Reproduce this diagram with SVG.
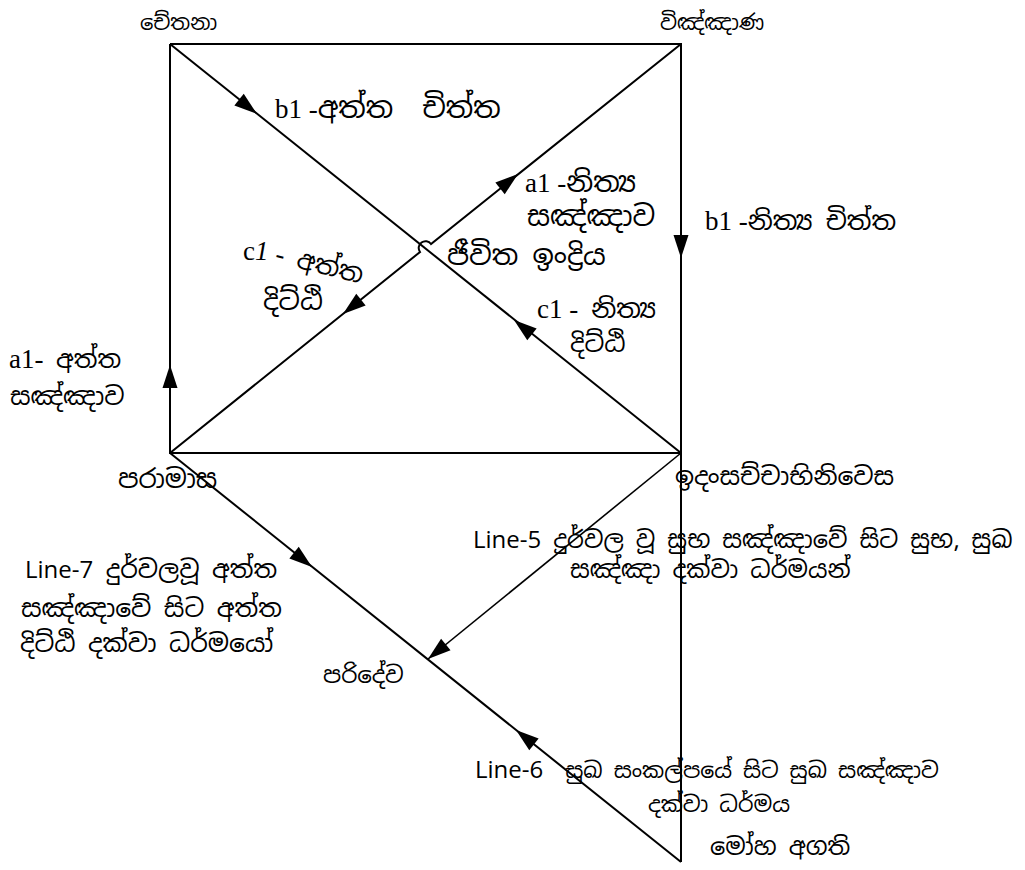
<svg xmlns="http://www.w3.org/2000/svg" xmlns:xlink="http://www.w3.org/1999/xlink" width="1025" height="870" viewBox="0 0 1025 870">
<style>
.ln{fill:none;stroke:#000;stroke-width:2}
.ln2{fill:none;stroke:#000;stroke-width:1.6}
.si{font-family:"Noto Sans Sinhala","Noto Serif Sinhala","Iskoola Pota","Liberation Serif",serif;fill:#000}
.lt{font-family:"Liberation Serif","Times New Roman",serif;font-size:27px}
.ss{font-family:"Open Sans","Liberation Sans",sans-serif;font-size:24px}
</style>
<defs>
<path id="ah" d="M0,0 L-23,-7.5 L-23,7.5 Z" fill="#000"/>
</defs>
<rect width="1025" height="870" fill="#fff"/>
<g id="connectors">
<path class="ln" d="M170,44 L681,44 L681,862"/>
<path class="ln" d="M170,44 L170,453 L681,453"/>
<path class="ln" d="M170,44 L681,453"/>
<path class="ln" d="M681,44 L431,244 A6,6 0 0 0 420,252 L170,453"/>
<path class="ln" d="M170,453 L681,862"/>
<path class="ln2" d="M681,453 L428,659"/>
<use xlink:href="#ah" transform="translate(257,114) rotate(38.66)"/>
<use xlink:href="#ah" transform="translate(514,320) rotate(218.66)"/>
<use xlink:href="#ah" transform="translate(518,174) rotate(-38.66)"/>
<use xlink:href="#ah" transform="translate(343,314) rotate(141.34)"/>
<use xlink:href="#ah" transform="translate(170,365) rotate(-90)"/>
<use xlink:href="#ah" transform="translate(681,258) rotate(90)"/>
<use xlink:href="#ah" transform="translate(312,567) rotate(38.66)"/>
<use xlink:href="#ah" transform="translate(516,730) rotate(218.66)"/>
<use xlink:href="#ah" transform="translate(428,659) rotate(140.8)"/>
</g>
<g id="node-chetana"><text class="si" x="140" y="30" style="font-size:21px">චේතනා</text></g>
<g id="node-vinnana"><text class="si" x="660" y="30" style="font-size:21px">විඤ්ඤාණ</text></g>
<g id="node-paramasa"><text class="si" x="118" y="488" style="font-size:26px">පරාමාස</text></g>
<g id="node-idam"><text class="si" x="675" y="485" style="font-size:25px">ඉදංසච්චාභිනිවෙස</text></g>
<g id="node-parideva"><text class="si" x="323" y="683" style="font-size:23px">පරිදේව</text></g>
<g id="node-moha"><text class="si" x="710" y="855" style="font-size:24px">මෝහ අගති</text></g>
<g id="labels">
<text class="si" x="275" y="118" style="font-size:29px"><tspan class="lt">b1 -</tspan>අත්ත&#160; චිත්ත</text>
<text class="si" x="525" y="192" style="font-size:28px"><tspan class="lt">a1 -</tspan>නිත්‍ය</text>
<text class="si" x="527" y="226" style="font-size:28px">සඤ්ඤාව</text>
<text class="si" x="447" y="265" style="font-size:28px">ජීවිත ඉංද්‍රිය</text>
<text class="si" x="705" y="230" style="font-size:26px"><tspan class="lt">b1 -</tspan>නිත්‍ය චිත්ත</text>
<text class="lt" x="243" y="260">c<tspan font-style="italic">1</tspan></text>
<text class="si" transform="translate(274,262) rotate(14)" style="font-size:26px"><tspan class="lt">-</tspan> අත්ත</text>
<text class="si" x="263" y="310" style="font-size:27px">දිට්ඨි</text>
<text class="si" x="537" y="318" style="font-size:26px"><tspan class="lt">c1 -</tspan> නිත්‍ය</text>
<text class="si" x="570" y="352" style="font-size:25px">දිට්ඨි</text>
<text class="si" x="9" y="368" style="font-size:25px"><tspan class="lt">a1-</tspan> අත්ත</text>
<text class="si" x="10" y="405" style="font-size:25px">සඤ්ඤාව</text>
<text class="si" x="25" y="578" style="font-size:25px"><tspan class="ss">Line-7</tspan> දුර්වලවූ අත්ත</text>
<text class="si" x="21" y="617" style="font-size:25px">සඤ්ඤාවේ සිට අත්ත</text>
<text class="si" x="20" y="652" style="font-size:25px">දිට්ඨි දක්වා ධර්මයෝ</text>
<text class="si" x="473" y="548" style="font-size:24px"><tspan class="ss">Line-5</tspan> දුර්වල වූ සුභ සඤ්ඤාවේ සිට සුභ, සුඛ</text>
<text class="si" x="570" y="578" style="font-size:24px">සඤ්ඤා දක්වා ධර්මයන්</text>
<text class="si" x="475" y="778" style="font-size:22px"><tspan class="ss">Line-6</tspan>&#160; සුඛ සංකල්පයේ සිට සුඛ සඤ්ඤාව</text>
<text class="si" x="648" y="812" style="font-size:22px">දක්වා ධර්මය</text>
</g>
</svg>
